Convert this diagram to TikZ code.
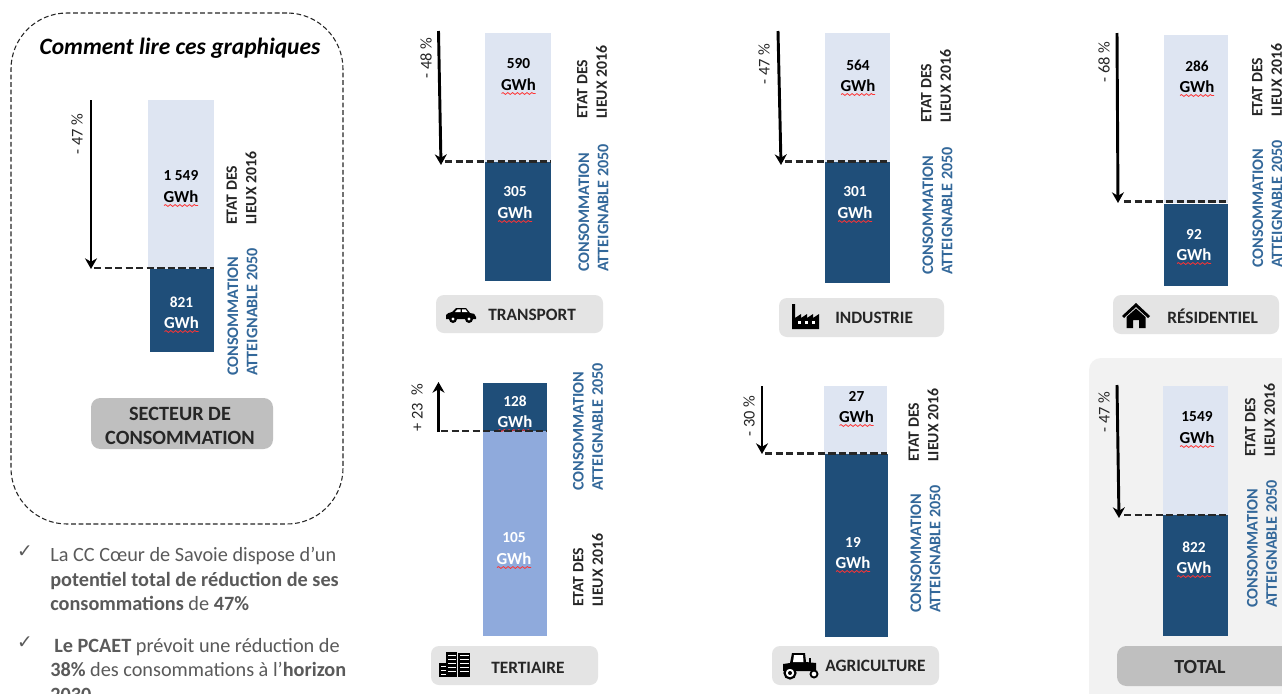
\documentclass[tikz,border=0pt]{standalone}
\usepackage{fontspec}
\setmainfont{Carlito}
\newfontfamily\dejavu{DejaVu Sans}
\usetikzlibrary{arrows.meta,decorations.pathmorphing}
\definecolor{barDark}{HTML}{1F4E79}
\definecolor{barLight}{HTML}{DEE5F2}
\definecolor{barMid}{HTML}{8FAADC}
\definecolor{labBlue}{HTML}{33689A}
\definecolor{btnLight}{HTML}{E4E4E4}
\definecolor{btnDark}{HTML}{BFBFBF}
\definecolor{panelGray}{HTML}{F2F2F2}
\definecolor{txtGray}{HTML}{5A5A5A}
\definecolor{txtDark}{HTML}{262626}
\tikzset{
  flat/.style={draw=none,inner sep=0pt,outer sep=0pt},
  lightbar/.style={flat,fill=barLight},
  darkbar/.style={flat,fill=barDark},
  midbar/.style={flat,fill=barMid},
  btn/.style={flat,fill=btnLight,rounded corners=6pt},
  btndark/.style={flat,fill=btnDark,rounded corners=7pt},
  btntext/.style={inner sep=0pt,text=txtDark,font=\fontsize{13}{15}\selectfont\bfseries},
  pct/.style={rotate=90,inner sep=0pt,text=txtDark,font=\fontsize{12.3}{14}\selectfont},
  collab/.style={rotate=90,anchor=west,align=left,inner sep=0pt,font=\bfseries},
  etat/.style={collab,text=txtDark,font=\fontsize{11.8}{14.6}\selectfont\bfseries},
  conso/.style={collab,text=labBlue,font=\fontsize{12.1}{14.6}\selectfont\bfseries},
  valtxt/.style={inner sep=0pt,font=\fontsize{11.5}{14}\selectfont\bfseries},
  gwhtxt/.style={inner sep=0pt,font=\fontsize{12.6}{14}\selectfont\bfseries},
  bigarrow/.style={line width=2.2pt,black,-{Stealth[length=8pt,width=9pt]}},
  dashline/.style={line width=2.2pt,txtDark,dash pattern=on 5.5pt off 2.4pt},
  squig/.style={draw=red!80!white,line width=.6pt,decorate,decoration={snake,amplitude=.7pt,segment length=3.6pt}},
  icon/.style={fill=black,draw=none},
  para/.style={anchor=base west,inner sep=0pt,text=txtGray,font=\fontsize{15.2}{18}\selectfont},
  chk/.style={inner sep=0pt,text=txtGray,font=\dejavu\fontsize{14}{16}\selectfont},
}
\newcommand{\pxbar}[6]{%
  \pgfmathsetmacro\pxw{(#4-#2)*0.75}%
  \pgfmathsetmacro\pxh{(#5-#3)*0.75}%
  \node[#6,minimum width=\pxw pt,minimum height=\pxh pt] (#1) at ({(#2+#4)/2},{(#3+#5)/2}) {};}
\newcommand{\gwhlab}[5]{%
  \node[valtxt,text=#5] (#1n) at (#2,#3) {#4};
  \node[gwhtxt,text=#5] (#1u) at (#2,#3+20.5) {GWh};
  \draw[squig] ({#2-17},{#3+29.5}) -- ({#2+17},{#3+29.5});}
\begin{document}
\begin{tikzpicture}[x=0.75pt,y=-0.75pt]
\useasboundingbox (0,0) rectangle (1282,693);
\fill[white] (0,0) rectangle (1282,693);

% ---- legend frame
\node[draw=txtDark,line width=.8pt,dash pattern=on 3.6pt off 2pt,rounded corners=42pt,inner sep=0pt,
      minimum width=249pt,minimum height=383.25pt] (frame) at (177,268.5) {};
\node[inner sep=0pt,text=black,font=\fontsize{17.6}{20}\selectfont\bfseries\itshape] (title) at (180,48) {Comment lire ces graphiques};

% legend chart
\pxbar{lgL}{148}{100}{214}{269}{lightbar}
\pxbar{lgD}{150}{269}{214}{352}{darkbar}
\gwhlab{lgA}{181}{176}{1 549}{black}
\gwhlab{lgB}{181.5}{302}{821}{white}
\coordinate (lgT) at (91,100); \coordinate (lgM) at (91,269); \coordinate (lgE) at (214,268);
\draw[bigarrow] (lgT) -- (lgM);
\draw[dashline] (lgM) ++(3,-1) -- (lgE);
\node[pct] (lgP) at (77,134) {- 47 \%};
\node[etat] (lgS) at (241.5,225) {ETAT DES\\LIEUX 2016};
\node[conso] (lgC) at (242.5,376) {CONSOMMATION\\ATTEIGNABLE 2050};
\pxbar{lgBtn}{91}{398}{273}{449}{btndark}
\node[inner sep=0pt,align=center,text=txtDark,font=\fontsize{15.2}{18}\selectfont\bfseries] (lgBtnT) at (180,426) {SECTEUR DE\\CONSOMMATION};

% ---- bullets
\node[chk] (ck1) at (25,552) {✓};
\node[para] (p1a) at (50,561) {La CC Cœur de Savoie dispose d’un};
\node[para] (p1b) at (50,586) {\textbf{potentiel total de réduction de ses}};
\node[para] (p1c) at (50,610) {\textbf{consommations} de \textbf{47\%}};
\node[chk] (ck2) at (25,643) {✓};
\node[para] (p2a) at (54,652) {\textbf{Le PCAET} prévoit une réduction de};
\node[para] (p2b) at (50,676) {\textbf{38\%} des consommations à l’\textbf{horizon}};
\node[para] (p2c) at (50,701) {\textbf{2030}};

% ---- transport
\pxbar{trL}{485}{33}{551}{162}{lightbar}
\pxbar{trD}{485}{162}{551}{281}{darkbar}
\gwhlab{trA}{518.5}{64}{590}{black}
\gwhlab{trB}{515}{192}{305}{white}
\coordinate (trT) at (438.5,31); \coordinate (trM) at (441,165); \coordinate (trS) at (445,161.5); \coordinate (trE) at (551,161.5);
\draw[bigarrow] (trT) -- (trM);
\draw[dashline] (trS) -- (trE);
\node[pct] (trP) at (426,58) {- 48 \%};
\node[etat] (trEt) at (592,119) {ETAT DES\\LIEUX 2016};
\node[conso] (trC) at (593.5,272) {CONSOMMATION\\ATTEIGNABLE 2050};
\pxbar{trBtn}{436}{295}{603}{333}{btn}
\node[btntext,anchor=west] (trBtnT) at (488,315) {TRANSPORT};
\begin{scope}[shift={(461,315)}]
  \path[icon] (-15,4) -- (-15,0) .. controls (-14,-2) and (-12,-2) .. (-9,-3) -- (-5,-7) -- (5,-7) -- (9,-2) .. controls (12,-2) and (15,-1) .. (15,2) -- (15,4) -- cycle;
  \fill[white] (-6,-3) -- (-3.5,-5.6) -- (-.5,-5.6) -- (-.5,-3) -- cycle (1,-3) -- (1,-5.6) -- (4.5,-5.6) -- (6.5,-3) -- cycle;
  \fill[black] (-8,4) circle (4);\fill[white] (-8,4) circle (1.6);
  \fill[black] (8,4) circle (4);\fill[white] (8,4) circle (1.6);
\end{scope}

% ---- tertiaire
\pxbar{teL}{483}{431}{547}{636}{midbar}
\pxbar{teD}{483}{383}{547}{431}{darkbar}
\gwhlab{teA}{515}{401}{128}{white}
\gwhlab{teB}{514}{538}{105}{white}
\coordinate (teB0) at (438.5,432); \coordinate (teT) at (438.5,382); \coordinate (teS) at (441,431); \coordinate (teE) at (547,431);
\draw[bigarrow] (teB0) -- (teT);
\draw[dashline] (teS) -- (teE);
\node[pct] (teP) at (417,408) {+ 23 \ \%};
\node[conso] (teC) at (588,491) {CONSOMMATION\\ATTEIGNABLE 2050};
\node[etat] (teEt) at (588,607) {ETAT DES\\LIEUX 2016};
\pxbar{teBtn}{431}{646}{598}{685}{btn}
\node[btntext,anchor=west] (teBtnT) at (491,668) {TERTIAIRE};
\begin{scope}[shift={(455,663)}]
  \path[icon] (-16,0) rectangle (-8,14);
  \path[icon] (-8,4) rectangle (-1,14);
  \path[icon] (-9,-11) rectangle (2,14);
  \path[icon] (3,-10) rectangle (15,14);
  \foreach \ya in {-8,-4,0,4,8}{
    \fill[white] (-7,\ya) rectangle (0.5,\ya+1.1);
    \fill[white] (4.5,\ya) rectangle (13.5,\ya+1.1);
  }
  \foreach \ya in {3,7,11}{\fill[white] (-14.5,\ya) rectangle (-9.5,\ya+1.1);}
\end{scope}

% ---- industrie
\pxbar{inL}{824.5}{33}{890}{162}{lightbar}
\pxbar{inD}{824.5}{162}{890}{283}{darkbar}
\gwhlab{inA}{858}{65}{564}{black}
\gwhlab{inB}{855}{192}{301}{white}
\coordinate (inT) at (778,31); \coordinate (inM) at (781,165); \coordinate (inS) at (785,161.5); \coordinate (inE) at (890,161.5);
\draw[bigarrow] (inT) -- (inM);
\draw[dashline] (inS) -- (inE);
\node[pct] (inP) at (764,64) {- 47 \%};
\node[etat] (inEt) at (936,123) {ETAT DES\\LIEUX 2016};
\node[conso] (inC) at (937.5,275) {CONSOMMATION\\ATTEIGNABLE 2050};
\pxbar{inBtn}{779}{298}{944}{337}{btn}
\node[btntext,anchor=west] (inBtnT) at (835,318) {INDUSTRIE};
\begin{scope}[shift={(806,317)}]
  \path[icon] (-14,12) -- (-14,-13) -- (-11,-13) -- (-11,1) -- (-5,-3) -- (-5,1) -- (1,-3) -- (1,1) -- (7,-3) -- (7,1) -- (13,-3) -- (13,12) -- cycle;
  \foreach \xa in {-8,-1,6}{\fill[white] (\xa,4) rectangle (\xa+3,7);}
\end{scope}

% ---- agriculture
\pxbar{agL}{824}{386}{887}{454}{lightbar}
\pxbar{agD}{824.5}{454}{888}{637}{darkbar}
\gwhlab{agA}{856.5}{396}{27}{black}
\gwhlab{agB}{853}{542}{19}{white}
\coordinate (agT) at (762,386); \coordinate (agM) at (762,454); \coordinate (agS) at (765,453.5); \coordinate (agE) at (887,453.5);
\draw[bigarrow] (agT) -- (agM);
\draw[dashline] (agS) -- (agE);
\node[pct] (agP) at (749,416) {- 30 \%};
\node[etat] (agEt) at (923.5,462) {ETAT DES\\LIEUX 2016};
\node[conso] (agC) at (925.5,613) {CONSOMMATION\\ATTEIGNABLE 2050};
\pxbar{agBtn}{772}{646}{939}{685}{btn}
\node[btntext,anchor=west] (agBtnT) at (825,666) {AGRICULTURE};
\begin{scope}[shift={(799,666)}]
  \path[icon] (-16,5) -- (-16,-2) -- (-9,-3) -- (-7,-13) -- (6,-13) -- (7,-4) -- (17,-3) -- (17,5) -- cycle;
  \fill[white] (-5,-11) -- (-6,-4) -- (4.5,-4) -- (4,-11) -- cycle;
  \fill[black] (10,-8) rectangle (12,-3);
  \draw[black,line width=1.6pt,fill=white] (-9,7) circle (5.5);
  \fill[black] (-9,7) circle (2);
  \draw[black,line width=1.4pt,fill=white] (15,8) circle (3.5);
\end{scope}

% ---- residentiel
\pxbar{reL}{1164}{35}{1228}{203}{lightbar}
\pxbar{reD}{1164}{204}{1228}{286}{darkbar}
\gwhlab{reA}{1197}{66}{286}{black}
\gwhlab{reB}{1194}{234}{92}{white}
\coordinate (reT) at (1117,33); \coordinate (reM) at (1118,203); \coordinate (reS) at (1124,201.5); \coordinate (reE) at (1228,201.5);
\draw[bigarrow] (reT) -- (reM);
\draw[dashline] (reS) -- (reE);
\node[pct] (reP) at (1104,62) {- 68 \%};
\node[etat] (reEt) at (1267,117) {ETAT DES\\LIEUX 2016};
\node[conso] (reC) at (1267.5,268) {CONSOMMATION\\ATTEIGNABLE 2050};
\pxbar{reBtn}{1113}{295}{1279}{334}{btn}
\node[btntext,anchor=west] (reBtnT) at (1167,316) {RÉSIDENTIEL};
\begin{scope}[shift={(1136,316)}]
  \path[icon] (-14,0) -- (0,-13) -- (14,0) -- (12,2) -- (0,-9) -- (-12,2) -- cycle;
  \path[icon] (-9.5,1) -- (0,-7.5) -- (9.5,1) -- (9.5,12) -- (3,12) -- (3,4) -- (-3,4) -- (-3,12) -- (-9.5,12) -- cycle;
\end{scope}

% ---- total
\pxbar{toPanel}{1089}{358}{1300}{712}{flat,fill=panelGray,rounded corners=9pt}
\pxbar{toL}{1162.5}{386}{1228}{515}{lightbar}
\pxbar{toD}{1162.5}{515}{1228}{636}{darkbar}
\gwhlab{toA}{1197}{417}{1549}{black}
\gwhlab{toB}{1194}{547}{822}{white}
\coordinate (toT) at (1117,385); \coordinate (toM) at (1119,518); \coordinate (toS) at (1124,515); \coordinate (toE) at (1228,515);
\draw[bigarrow] (toT) -- (toM);
\draw[dashline] (toS) -- (toE);
\node[pct] (toP) at (1104,412) {- 47 \%};
\node[etat] (toEt) at (1260,457) {ETAT DES\\LIEUX 2016};
\node[conso] (toC) at (1262,608) {CONSOMMATION\\ATTEIGNABLE 2050};
\pxbar{toBtn}{1117}{646}{1300}{686}{btndark}
\node[inner sep=0pt,text=txtDark,font=\fontsize{15}{16}\selectfont\bfseries] (toBtnT) at (1200,667) {TOTAL};
\end{tikzpicture}
\end{document}
